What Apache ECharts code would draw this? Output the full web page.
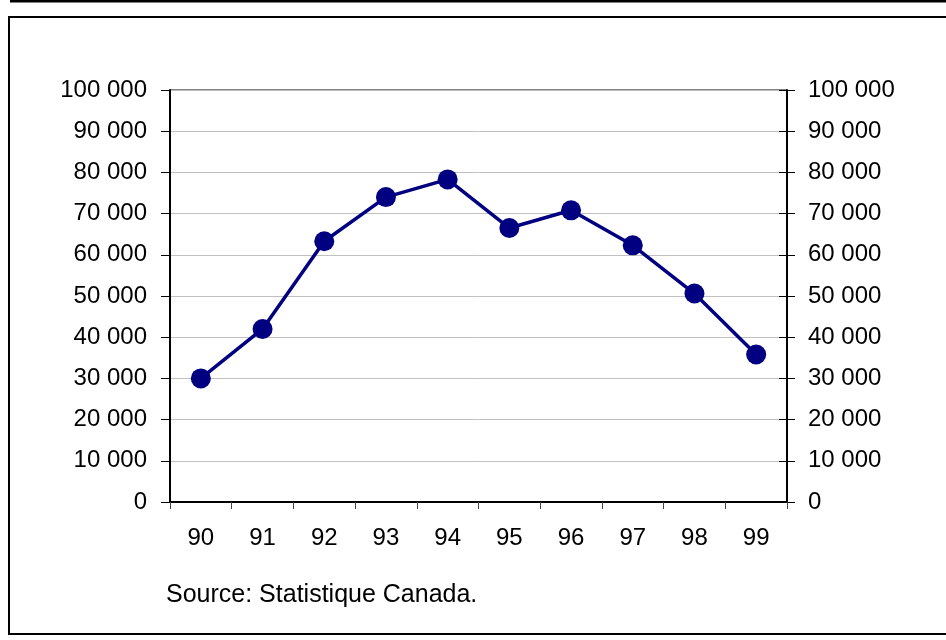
<!DOCTYPE html>
<html>
<head>
<meta charset="utf-8">
<script src="https://cdn.jsdelivr.net/npm/echarts@6/dist/echarts.min.js"></script>
<style>
  html, body { margin: 0; padding: 0; background: #fff; }
  #chart { width: 946px; height: 640px; }
</style>
</head>
<body>
<div id="chart"></div>
<script>
// années (1990 à 1999)
const years = ['90', '91', '92', '93', '94', '95', '96', '97', '98', '99']
const values = [30000, 42000, 63300, 74000, 78300, 66500, 70800, 62300, 50600, 35800]
const yMin = 0
const yMax = 100000
const yStep = 10000
const sourceText = 'Source: Statistique Canada.'

const font = 'Liberation Sans, Arial, sans-serif'
const fmt = (v) => String(v).replace(/\B(?=(\d{3})+(?!\d))/g, ' ')

const chart = echarts.init(document.getElementById('chart'))

const baseY = {
  type: 'value',
  min: yMin,
  max: yMax,
  interval: yStep,
  splitLine: { show: false },
  axisLine: { show: true, lineStyle: { color: '#000', width: 2 } },
  axisTick: { show: true, length: 9, lineStyle: { color: '#000', width: 1 } },
  axisLabel: { color: '#000', fontSize: 24, fontFamily: font, formatter: fmt }
}

chart.setOption({
  animation: false,
  backgroundColor: '#fff',
  grid: {
    left: 170,
    right: 159,
    top: 90,
    bottom: 138,
    show: true,
    borderColor: '#000',
    borderWidth: 1
  },
  xAxis: {
    type: 'category',
    data: years,
    boundaryGap: true,
    axisLine: { lineStyle: { color: '#000', width: 2 } },
    axisTick: { show: true, length: 7, lineStyle: { color: '#444' } },
    axisLabel: { color: '#000', fontSize: 24, fontFamily: font, margin: 24 },
    splitLine: { show: false }
  },
  yAxis: [
    Object.assign({}, baseY, {
      position: 'left',
      splitLine: { show: true, lineStyle: { color: '#c0c0c0', width: 1 } },
      axisLabel: Object.assign({}, baseY.axisLabel, { margin: 23 })
    }),
    Object.assign({}, baseY, {
      position: 'right',
      axisTick: { show: true, inside: true, length: 8, lineStyle: { color: '#000' } },
      axisLabel: Object.assign({}, baseY.axisLabel, { margin: 21 })
    }),
    Object.assign({}, baseY, {
      position: 'right',
      axisLine: { show: false },
      axisTick: { show: true, length: 8, lineStyle: { color: '#000' } },
      axisLabel: { show: false }
    })
  ],
  series: [
    {
      type: 'line',
      data: values,
      yAxisIndex: 0,
      symbol: 'circle',
      symbolSize: 20,
      itemStyle: { color: '#000080' },
      lineStyle: { color: '#000080', width: 3.5 }
    }
  ],
  graphic: [
    {
      type: 'line',
      shape: { x1: 10, y1: 1, x2: 946, y2: 1 },
      style: { stroke: '#000', lineWidth: 3 }
    },
    {
      type: 'rect',
      shape: { x: 9, y: 17, width: 960, height: 617 },
      style: { fill: null, stroke: '#000', lineWidth: 2 }
    },
    {
      type: 'text',
      left: 166,
      top: 583,
      style: { text: sourceText, fill: '#000', fontSize: 25, fontFamily: font }
    }
  ]
})
</script>
</body>
</html>
